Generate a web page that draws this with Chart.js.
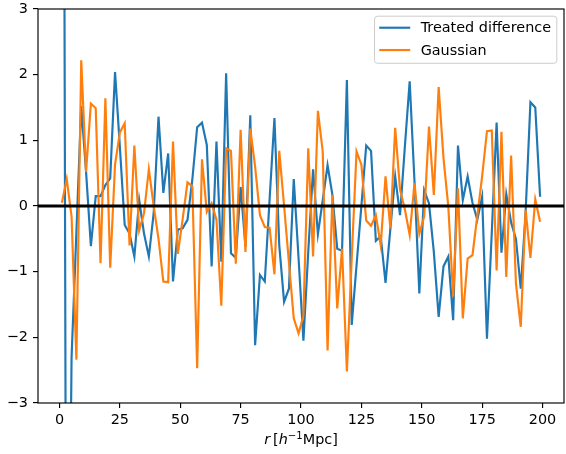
<!DOCTYPE html>
<html><head><meta charset="utf-8">
<script src="https://cdn.jsdelivr.net/npm/chart.js@4.4.1/dist/chart.umd.min.js"></script>
<style>html,body{margin:0;padding:0;background:#fff}canvas{display:block}</style>
</head><body>
<canvas id="c" width="566" height="454"></canvas>
<script>
const rValues = [1,3,5,7,9,11,13,15,17,19,21,23,25,27,29,31,33,35,37,39,41,43,45,47,49,51,53,55,57,59,61,63,65,67,69,71,73,75,77,79,81,83,85,87,89,91,93,95,97,99,101,103,105,107,109,111,113,115,117,119,121,123,125,127,129,131,133,135,137,139,141,143,145,147,149,151,153,155,157,159,161,163,165,167,169,171,173,175,177,179,181,183,185,187,189,191,193,195,197,199];

const treatedDifference = [
  18, -10, -2.3, -0.4, 1.52, 0.52, -0.61, 0.15, 0.15, 0.32,
  0.42, 2.04, 0.9, -0.29, -0.42, -0.77, 0.09, -0.42, -0.77, -0.11,
  1.36, 0.2, 0.8, -1.15, -0.36, -0.34, -0.21, 0.4, 1.2, 1.27,
  0.93, -0.92, 0.98, -0.85, 2.02, -0.72, -0.79, 0.29, -0.62, 1.38,
  -2.12, -1.05, -1.15, 0.1, 1.34, -0.6, -1.46, -1.26, 0.41, -0.8,
  -2.05, -0.7, 0.56, -0.43, 0.09, 0.62, 0.17, -0.65, -0.68, 1.92,
  -1.81, -0.9, 0.0, 0.92, 0.84, -0.53, -0.46, -1.17, -0.35, 0.45,
  -0.14, 0.9, 1.9, 0.37, -1.33, 0.24, 0.04, -0.7, -1.69, -0.92,
  -0.77, -1.74, 0.92, 0.09, 0.45, 0.05, -0.21, 0.14, -2.02, -0.4,
  1.27, -0.71, 0.18, -0.25, -0.5, -1.26, -0.1, 1.58, 1.5, 0.14
];

const gaussian = [
  0.05, 0.41, -0.16, -2.34, 2.22, 0.52, 1.56, 1.49, -0.87, 1.64,
  -0.94, 0.63, 1.12, 1.26, -0.6, 0.92, -0.37, -0.11, 0.56, 0.0,
  -0.5, -1.15, -1.16, 0.98, -0.73, -0.2, 0.36, 0.3, -2.47, 0.71,
  -0.09, 0.04, -0.21, -1.52, 0.88, 0.84, -0.88, 1.16, -0.7, 1.18,
  0.6, -0.14, -0.32, -0.33, -1.04, 0.84, 0.0, -0.86, -1.71, -1.94,
  -1.67, 0.88, -0.77, 1.45, 0.83, -2.2, 0.17, -1.56, -0.65, -2.52,
  -0.8, 0.83, 0.63, -0.22, -0.3, -0.14, -0.6, 0.45, -0.34, 1.19,
  0.25, -0.05, -0.44, 0.35, -0.42, -0.16, 1.21, 0.17, 1.81, 0.73,
  -0.01, -1.38, 0.27, -1.71, -0.8, -0.75, -0.15, 0.45, 1.14, 1.15,
  -0.98, 1.13, -1.08, 0.77, -1.18, -1.84, -0.06, -0.79, 0.10, -0.24
];

const seriesLabels = ['Treated difference', 'Gaussian'];
const seriesColors = ['#1f77b4', '#ff7f0e'];
const xTickValues = [0, 25, 50, 75, 100, 125, 150, 175, 200];
const yTickValues = [-3, -2, -1, 0, 1, 2, 3];
const xLimits = [-8.9, 208.9];
const yLimits = [-3, 3];
const referenceLevel = 0;
// x-axis title pieces: r [h^{-1}Mpc]
const xTitleParts = [
  {text: 'r', italic: true},
  {text: '[', gap: 3},
  {text: 'h', italic: true},
  {text: '\u22121', sup: true},
  {text: 'Mpc]'}
];

const FS = 14.4;
const FONT = "'DejaVu Sans', sans-serif";
const minusFmt = v => String(v).replace('-', '\u2212');

const extras = {
  id: 'extras',
  afterDraw(chart) {
    const {ctx, chartArea: a, scales} = chart;
    const y0 = scales.y.getPixelForValue(referenceLevel);
    ctx.save();
    ctx.beginPath(); ctx.rect(a.left, a.top, a.right - a.left, a.bottom - a.top); ctx.clip();
    ctx.strokeStyle = '#000'; ctx.lineWidth = 2.8;
    ctx.beginPath(); ctx.moveTo(a.left, y0); ctx.lineTo(a.right, y0); ctx.stroke();
    ctx.restore();
    ctx.save();
    ctx.strokeStyle = '#000'; ctx.lineWidth = 1.15;
    ctx.strokeRect(a.left, a.top, a.right - a.left, a.bottom - a.top);
    ctx.restore();
    // legend
    ctx.save();
    ctx.font = FS + 'px ' + FONT;
    const pad = 0.4 * FS, hl = 2 * FS, htp = 0.8 * FS, bap = 0.5 * FS;
    const tw = Math.max(...seriesLabels.map(l => ctx.measureText(l).width));
    const w = pad + hl + htp + tw + pad;
    const h = 3.27 * FS;
    const right = a.right - bap, top = a.top + bap, left = right - w;
    const r = 0.2 * FS;
    ctx.beginPath();
    ctx.moveTo(left + r, top);
    ctx.lineTo(right - r, top); ctx.arcTo(right, top, right, top + r, r);
    ctx.lineTo(right, top + h - r); ctx.arcTo(right, top + h, right - r, top + h, r);
    ctx.lineTo(left + r, top + h); ctx.arcTo(left, top + h, left, top + h - r, r);
    ctx.lineTo(left, top + r); ctx.arcTo(left, top, left + r, top, r);
    ctx.closePath();
    ctx.fillStyle = 'rgba(255,255,255,0.8)'; ctx.fill();
    ctx.strokeStyle = '#cccccc'; ctx.lineWidth = 1; ctx.stroke();
    seriesLabels.forEach((lab, i) => {
      const cy = top + 0.8 * FS + i * 1.55 * FS;
      ctx.strokeStyle = seriesColors[i]; ctx.lineWidth = 2.16; ctx.lineCap = 'square';
      ctx.beginPath(); ctx.moveTo(left + pad, cy); ctx.lineTo(left + pad + hl, cy); ctx.stroke();
      ctx.fillStyle = '#000'; ctx.textBaseline = 'middle'; ctx.textAlign = 'left';
      ctx.fillText(lab, left + pad + hl + htp, cy + 1);
    });
    ctx.restore();
    // x-axis title
    ctx.save();
    ctx.fillStyle = '#000'; ctx.textBaseline = 'alphabetic'; ctx.textAlign = 'left';
    const fontFor = p => (p.italic ? 'italic ' : '') + (p.sup ? 0.7 * FS : FS) + 'px ' + FONT;
    let total = 0;
    xTitleParts.forEach(p => { ctx.font = fontFor(p); total += (p.gap || 0) + ctx.measureText(p.text).width; });
    let x = (a.left + a.right) / 2 - total / 2;
    const base = 444;
    xTitleParts.forEach(p => {
      ctx.font = fontFor(p);
      x += (p.gap || 0);
      ctx.fillText(p.text, x, p.sup ? base - 5.5 : base);
      x += ctx.measureText(p.text).width;
    });
    ctx.restore();
  }
};

const mk = (vals) => rValues.map((r, i) => ({x: r, y: vals[i]}));

new Chart(document.getElementById('c'), {
  type: 'line',
  data: {
    datasets: [
      {label: seriesLabels[0], data: mk(treatedDifference), borderColor: seriesColors[0], borderWidth: 2.16, pointRadius: 0, tension: 0, fill: false, clip: 0, order: 1},
      {label: seriesLabels[1], data: mk(gaussian), borderColor: seriesColors[1], borderWidth: 2.16, pointRadius: 0, tension: 0, fill: false, clip: 0, order: 0}
    ]
  },
  options: {
    responsive: false,
    animation: false,
    devicePixelRatio: 1,
    layout: {padding: {left: 0, right: 2, top: 9, bottom: 0}},
    plugins: {legend: {display: false}, tooltip: {enabled: false}},
    scales: {
      x: {
        type: 'linear', min: xLimits[0], max: xLimits[1],
        afterBuildTicks: s => { s.ticks = xTickValues.map(v => ({value: v})); },
        afterFit: s => { s.height = 51; s.paddingLeft = 0; s.paddingRight = 0; },
        border: {display: false},
        grid: {drawOnChartArea: false, drawTicks: true, tickLength: 5, color: '#000', lineWidth: 1.15},
        ticks: {color: '#000', font: {family: FONT, size: FS}, padding: 4, maxRotation: 0, autoSkip: false, callback: minusFmt}
      },
      y: {
        type: 'linear', min: yLimits[0], max: yLimits[1],
        afterBuildTicks: s => { s.ticks = yTickValues.map(v => ({value: v})); },
        afterFit: s => { s.width = 38; s.paddingTop = 0; s.paddingBottom = 0; },
        border: {display: false},
        grid: {drawOnChartArea: false, drawTicks: true, tickLength: 5, color: '#000', lineWidth: 1.15},
        ticks: {color: '#000', font: {family: FONT, size: FS}, padding: 5, callback: minusFmt}
      }
    }
  },
  plugins: [extras]
});
</script>
</body></html>
